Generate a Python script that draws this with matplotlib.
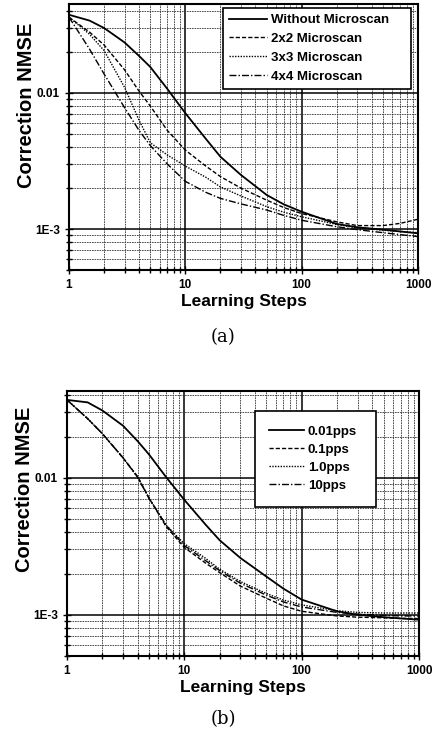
import numpy as np
import matplotlib
matplotlib.use('Agg')
import matplotlib.pyplot as plt
from matplotlib.ticker import LogLocator, NullFormatter

plt.rcParams['font.family'] = ['Liberation Sans', 'DejaVu Sans']

steps = [1, 1.5, 2, 3, 4, 5, 7, 10, 15, 20, 30, 50, 70, 100, 200, 300, 500, 700, 1000]

# (a) microscan comparison
no_micro = [0.0375, 0.034, 0.030, 0.0235, 0.0187, 0.0155, 0.0107, 0.0071, 0.0046, 0.0034, 0.0025,
            0.00178, 0.00152, 0.00134, 0.00109, 0.00103, 0.00099, 0.00096, 0.00093]
micro_2x2 = [0.036, 0.028, 0.0225, 0.0148, 0.0103, 0.0080, 0.0053, 0.0038, 0.0029, 0.00243, 0.0020,
             0.00163, 0.00144, 0.0013, 0.00113, 0.00106, 0.00106, 0.00110, 0.00118]
micro_3x3 = [0.036, 0.027, 0.0205, 0.0110, 0.0063, 0.0043, 0.0035, 0.0029, 0.0024, 0.00204, 0.00175,
             0.00146, 0.00133, 0.00123, 0.00108, 0.00102, 0.00098, 0.00096, 0.00094]
micro_4x4 = [0.036, 0.021, 0.0138, 0.0078, 0.0053, 0.0041, 0.0030, 0.00224, 0.00186, 0.00168, 0.00153,
             0.00138, 0.00126, 0.00116, 0.00104, 0.00099, 0.00094, 0.00091, 0.00088]
labels_a = ['Without Microscan', '2x2 Microscan', '3x3 Microscan', '4x4 Microscan']

# (b) different rates
pps_001 = [0.037, 0.0355, 0.031, 0.0240, 0.0185, 0.0148, 0.0101, 0.0069, 0.0046, 0.0035, 0.0026,
           0.0019, 0.00155, 0.00129, 0.00106, 0.00100, 0.00096, 0.00094, 0.00092]
pps_01 = [0.037, 0.027, 0.021, 0.0140, 0.0102, 0.0071, 0.0044, 0.0031, 0.0024, 0.00203, 0.00162,
          0.00132, 0.00116, 0.00106, 0.00098, 0.00096, 0.00095, 0.00094, 0.00094]
pps_1 = [0.037, 0.027, 0.021, 0.0140, 0.0101, 0.0071, 0.0045, 0.0033, 0.0026, 0.00215, 0.00175,
         0.00143, 0.00128, 0.00118, 0.00107, 0.00104, 0.00103, 0.00103, 0.00103]
pps_10 = [0.037, 0.027, 0.021, 0.0140, 0.0101, 0.0071, 0.0045, 0.0032, 0.0025, 0.0021, 0.0017,
          0.00139, 0.00124, 0.00114, 0.00104, 0.00101, 0.00099, 0.00098, 0.00098]
labels_b = ['0.01pps', '0.1pps', '1.0pps', '10pps']

styles = [dict(ls='-', lw=1.3), dict(ls=(0, (3, 1.5)), lw=1.0),
          dict(ls=(0, (1, 1)), lw=1.0), dict(ls=(0, (5, 1.5, 1, 1.5)), lw=1.0)]

fig = plt.figure(figsize=(4.33, 7.43), dpi=100)
ax_a = fig.add_axes([0.1594, 0.6366, 0.806, 0.358])
ax_b = fig.add_axes([0.1547, 0.1171, 0.813, 0.3567])


def setup(ax, ylim, label_y):
    ax.set_xscale('log')
    ax.set_yscale('log')
    ax.set_xlim(1, 1000)
    ax.set_ylim(*ylim)
    ax.set_xticks([1, 10, 100, 1000], ['1', '10', '100', '1000'])
    ax.set_yticks([1e-3, 1e-2], ['1E-3', '0.01'])
    ax.xaxis.set_minor_locator(LogLocator(base=10, subs=np.arange(2, 10)))
    ax.yaxis.set_minor_locator(LogLocator(base=10, subs=np.arange(2, 10)))
    ax.xaxis.set_minor_formatter(NullFormatter())
    ax.yaxis.set_minor_formatter(NullFormatter())
    ax.grid(True, which='major', color='black', lw=1.1, ls='-')
    ax.grid(True, which='minor', color='0.2', lw=0.6, ls=(0, (2, 1)))
    ax.tick_params(which='both', direction='inout', top=False, right=False,
                   labelsize=8.5, width=1.0)
    ax.tick_params(which='major', length=6)
    ax.tick_params(which='minor', length=4)
    for lab in ax.get_xticklabels() + ax.get_yticklabels():
        lab.set_fontweight('bold')
    for sp in ax.spines.values():
        sp.set_linewidth(1.5)
    ax.set_xlabel('Learning Steps', fontsize=12.5, fontweight='bold', labelpad=2)
    ax.set_ylabel('Correction NMSE', fontsize=14.5, fontweight='bold')
    ax.yaxis.set_label_coords(-0.095, label_y)


setup(ax_a, (5e-4, 0.045), 0.62)
for ys, lab, st in zip([no_micro, micro_2x2, micro_3x3, micro_4x4], labels_a, styles):
    ax_a.plot(steps, ys, color='black', label=lab, **st)
leg = ax_a.legend(loc='upper left', bbox_to_anchor=(0.441, 0.0, 0.539, 0.985), mode='expand',
                  frameon=True, fancybox=False, edgecolor='black', handlelength=2.9,
                  handletextpad=0.3, borderpad=0.45, labelspacing=0.5, borderaxespad=0.0,
                  prop={'weight': 'bold', 'size': 9.5})
leg.get_frame().set_linewidth(1.2)
leg.get_frame().set_alpha(1)

setup(ax_b, (5e-4, 0.043), 0.63)
for ys, lab, st in zip([pps_001, pps_01, pps_1, pps_10], labels_b, styles):
    ax_b.plot(steps, ys, color='black', label=lab, **st)
leg = ax_b.legend(loc='upper left', bbox_to_anchor=(0.534, 0.0, 0.344, 0.925), mode='expand',
                  frameon=True, fancybox=False, edgecolor='black', handlelength=2.6,
                  handletextpad=0.3, borderpad=1.1, labelspacing=0.45, borderaxespad=0.0,
                  prop={'weight': 'bold', 'size': 9.5})
leg.get_frame().set_linewidth(1.2)
leg.get_frame().set_alpha(1)

fig.text(0.515, 0.547, '(a)', ha='center', va='center', fontsize=13, family='DejaVu Serif')
fig.text(0.515, 0.032, '(b)', ha='center', va='center', fontsize=13, family='DejaVu Serif')

fig.savefig('out.png', dpi=100)
